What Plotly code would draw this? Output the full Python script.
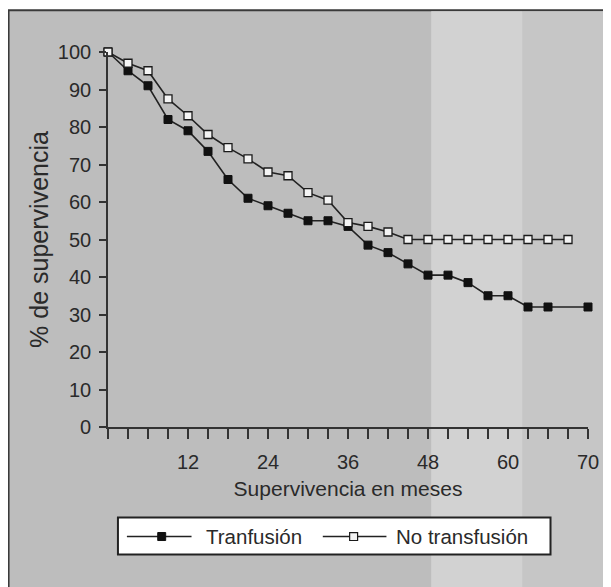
import plotly.graph_objects as go

# ---- data ----
months_tr = [0, 3, 6, 9, 12, 15, 18, 21, 24, 27, 30, 33, 36, 39, 42, 45, 48, 51, 54, 57, 60, 63, 66, 72]
tranfusion = [100, 95, 91, 82, 79, 73.5, 66, 61, 59, 57, 55, 55, 53.5, 48.5, 46.5, 43.5, 40.5, 40.5,
              38.5, 35, 35, 32, 32, 32]
months_no = [0, 3, 6, 9, 12, 15, 18, 21, 24, 27, 30, 33, 36, 39, 42, 45, 48, 51, 54, 57, 60, 63, 66, 69]
no_transfusion = [100, 97, 95, 87.5, 83, 78, 74.5, 71.5, 68, 67, 62.5, 60.5, 54.5, 53.5, 52, 50,
                  50, 50, 50, 50, 50, 50, 50, 50]
x_tickvals = list(range(0, 73, 3))
x_label_map = {12: "12", 24: "24", 36: "36", 48: "48", 60: "60", 72: "70"}
y_tickvals = [0, 10, 20, 30, 40, 50, 60, 70, 80, 90, 100]
series_names = ["Tranfusión", "No transfusión"]

# ---- layout geometry (screen px; page body has an 8px margin) ----
OFF = 8
W, H = 611 - OFF, 587 - OFF
X0, X1 = 108.0, 590.7      # screen x of month 0 / month 72
Y0, Y1 = 427.3, 51.7       # screen y of 0% / 100%
L = X0 - OFF
R = W - (X1 - OFF)
T = Y1 - OFF
B = H - (Y0 - OFF)
PW = W - L - R
PH = H - T - B
FONT = "Liberation Sans, Arial, Helvetica, sans-serif"
INK = "#222222"
TXT = "#2a2a2a"


def px(xs):
    return (xs - X0) / PW


def py(ys):
    return (Y0 - ys) / PH


fig = go.Figure()

fig.add_trace(go.Scatter(
    x=months_tr, y=tranfusion, name=series_names[0], mode="lines+markers",
    line=dict(color=INK, width=1.6),
    marker=dict(symbol="square", size=8, color="#111111", line=dict(color="#111111", width=1)),
    cliponaxis=False, showlegend=False,
))
fig.add_trace(go.Scatter(
    x=months_no, y=no_transfusion, name=series_names[1], mode="lines+markers",
    line=dict(color=INK, width=1.6),
    marker=dict(symbol="square", size=8, color="#f4f4f4", line=dict(color="#1a1a1a", width=1.3)),
    cliponaxis=False, showlegend=False,
))

shapes = [
    # scanned grey background with frame on left/top
    dict(type="rect", xref="paper", yref="paper", x0=px(8), x1=px(640), y0=py(620), y1=py(10),
         fillcolor="#bdbdbd", line=dict(color="#3a3a3a", width=2), layer="below"),
    dict(type="rect", xref="paper", yref="paper", x0=px(433), x1=px(525), y0=py(620), y1=py(11),
         fillcolor="#d2d2d2", line=dict(width=0), layer="below"),
    dict(type="rect", xref="paper", yref="paper", x0=px(525), x1=px(640), y0=py(620), y1=py(11),
         fillcolor="#c6c6c6", line=dict(width=0), layer="below"),
    # legend box
    dict(type="rect", xref="paper", yref="paper", x0=px(118), x1=px(553), y0=py(555), y1=py(518),
         fillcolor="#ffffff", line=dict(color=INK, width=2)),
    # legend samples
    dict(type="line", xref="paper", yref="paper", x0=px(127), x1=px(192), y0=py(537), y1=py(537),
         line=dict(color=INK, width=1.6)),
    dict(type="rect", xref="paper", yref="paper", x0=px(158), x1=px(166), y0=py(541), y1=py(533),
         fillcolor="#111111", line=dict(color="#111111", width=1)),
    dict(type="line", xref="paper", yref="paper", x0=px(324), x1=px(388), y0=py(537), y1=py(537),
         line=dict(color=INK, width=1.6)),
    dict(type="rect", xref="paper", yref="paper", x0=px(351), x1=px(359), y0=py(541), y1=py(533),
         fillcolor="#f4f4f4", line=dict(color="#1a1a1a", width=1.2)),
]

annotations = [
    dict(text=series_names[0], xref="paper", yref="paper", x=px(205), y=py(537),
         xanchor="left", yanchor="middle", showarrow=False,
         font=dict(family=FONT, size=20.5, color=TXT)),
    dict(text=series_names[1], xref="paper", yref="paper", x=px(396), y=py(537),
         xanchor="left", yanchor="middle", showarrow=False,
         font=dict(family=FONT, size=20.5, color=TXT)),
]

fig.update_layout(
    width=W, height=H,
    margin=dict(l=L, r=R, t=T, b=B, pad=0),
    paper_bgcolor="#ffffff",
    plot_bgcolor="rgba(0,0,0,0)",
    font=dict(family=FONT, size=20, color=TXT),
    shapes=shapes,
    annotations=annotations,
    showlegend=False,
)

fig.update_xaxes(
    range=[0, 72], autorange=False,
    tickmode="array", tickvals=x_tickvals,
    ticktext=[x_label_map.get(v, "") for v in x_tickvals],
    ticks="outside", ticklen=10, tickwidth=1.5, tickcolor="#333333",
    showline=True, linecolor="#333333", linewidth=1.6,
    showgrid=False, zeroline=False,
    tickfont=dict(family=FONT, size=20, color=TXT),
    ticklabelstandoff=6,
    title=dict(text="Supervivencia en meses", standoff=10,
               font=dict(family=FONT, size=21, color=TXT)),
)
fig.update_yaxes(
    range=[0, 100], autorange=False,
    tickmode="array", tickvals=y_tickvals,
    ticks="outside", ticklen=7, tickwidth=1.5, tickcolor="#333333",
    showline=True, linecolor="#333333", linewidth=1.6,
    showgrid=False, zeroline=False,
    tickfont=dict(family=FONT, size=20, color=TXT),
    ticklabelstandoff=4,
    title=dict(text="% de supervivencia", standoff=2,
               font=dict(family=FONT, size=25, color=TXT)),
)

fig.write_html("out.html")
